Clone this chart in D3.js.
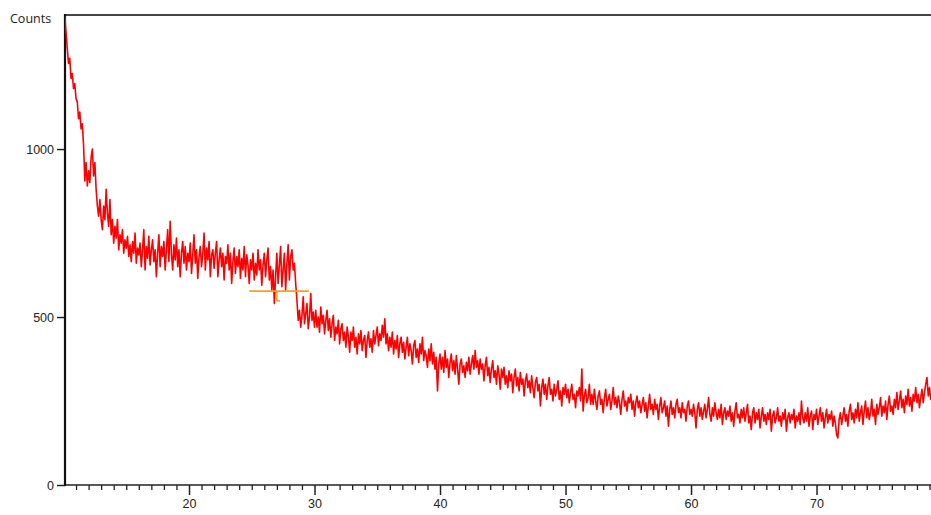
<!DOCTYPE html>
<html>
<head>
<meta charset="utf-8">
<script src="https://d3js.org/d3.v7.min.js"></script>
<style>
    body { margin: 0; background: #fff; }
    svg { display: block; font-family: "Open Sans", "DejaVu Sans", sans-serif; }
</style>
</head>
<body>
<svg id="vis"></svg>
<script>
// XRD scan, step 0.1 deg starting at 10.1 (2theta)
var scanStart = 10.1;
var scanStep = 0.1;

// Counts, one row per degree
var counts = [
    1395,1350,1300,1255,1270,1210,1225,1180,1195,1150,
    1140,1090,1110,1060,1075,1010,905,960,890,935,
    900,975,1000,920,960,880,830,800,850,790,
    760,830,790,880,810,770,850,745,790,720,
    770,735,790,700,745,720,760,690,730,705,
    740,680,715,665,725,690,750,660,705,685,
    720,650,700,760,640,710,675,740,655,700,
    730,665,700,620,690,745,650,710,680,725,
    640,700,760,665,785,690,640,715,670,735,
    650,700,620,690,725,660,710,640,690,665,
    720,630,685,745,660,700,615,680,710,650,
    690,750,640,705,670,725,620,685,700,645,
    690,725,620,670,705,650,690,610,680,660,
    715,640,690,600,665,705,630,680,650,700,
    615,675,640,710,620,685,655,600,670,640,
    690,610,660,625,700,640,670,595,655,690,
    620,670,705,610,650,580,640,540,620,690,
    600,655,710,590,640,690,580,660,715,610,
    680,700,640,660,600,550,490,520,470,505,
    560,480,510,540,465,500,570,490,515,470,
    520,470,500,455,530,480,505,450,490,520,
    460,495,440,480,505,430,470,450,490,420,
    465,480,430,455,410,470,440,395,455,430,
    470,410,440,390,450,420,460,400,430,445,
    380,430,455,410,435,395,460,420,445,470,
    415,450,430,475,440,495,420,450,400,440,
    410,455,390,430,405,445,380,420,440,395,
    425,375,410,440,385,420,400,360,415,430,
    380,405,365,420,390,440,370,400,385,350,
    405,370,420,360,395,345,380,280,360,390,
    345,380,335,400,350,375,320,365,390,340,
    370,330,385,345,300,360,375,335,355,320,
    365,340,380,330,360,385,345,400,350,370,
    330,375,345,360,310,355,380,325,350,305,
    345,370,320,340,300,355,330,285,345,320,
    350,300,325,290,340,310,330,275,320,345,
    295,320,280,335,300,315,265,310,330,290,
    310,275,325,290,260,305,320,280,300,235,
    290,315,270,300,255,295,320,270,285,250,
    300,265,285,310,255,280,235,290,270,300,
    260,285,245,275,300,255,270,230,280,265,
    290,250,345,220,265,285,245,260,300,240,
    270,240,285,250,225,265,280,240,255,215,
    260,285,235,255,270,225,250,290,240,260,
    230,265,245,210,255,280,235,250,220,260,
    245,270,225,250,205,245,265,230,250,215,
    240,260,220,245,200,235,270,225,240,210,
    255,225,240,195,235,260,215,230,250,205,
    235,175,225,250,210,230,200,240,255,215,
    230,200,245,215,225,190,235,250,210,225,
    205,240,215,170,225,245,205,230,195,220,
    240,200,225,260,210,190,230,205,245,215,
    195,225,200,240,180,215,230,195,220,205,
    235,190,215,175,220,245,200,210,185,225,
    200,230,190,215,240,185,205,165,215,230,
    185,215,195,225,170,205,230,190,210,180,
    215,195,225,160,205,220,185,200,230,190,
    205,175,215,195,225,160,200,215,185,210,
    195,225,170,205,190,215,180,250,200,185,
    215,190,230,175,205,220,165,210,195,225,
    180,205,230,190,215,170,200,225,185,210,
    195,220,175,205,185,150,140,195,215,180,
    205,230,190,210,175,220,240,195,215,185,
    225,200,245,190,215,235,180,220,250,200,
    230,195,215,255,205,225,180,240,210,230,
    260,205,235,215,250,195,240,265,220,235,
    210,255,230,275,225,250,280,230,255,215,
    265,240,285,235,260,220,270,250,290,245,
    270,230,260,285,245,275,300,320,265,290,
    255,270
];

// Phase marker (orange) under the hump
var markerRange = [24.8, 29.55];
var markerLevel = 577;
var markerStick = { pos: 27.0, low: 548 };

var xTicksMajor = [20, 30, 40, 50, 60, 70];
var yTicks = [0, 500, 1000];

function buildScan() {
    var pts = [];
    for (var i = 0, len = counts.length; i < len; i++) {
        pts.push({ angle: +(scanStart + i * scanStep).toFixed(2), cts: counts[i] });
    }
    return pts;
}

function drawChart() {
    var width = 931, height = 515;
    var left = 65, top = 15, bottom = 485;

    var svg = d3.select("#vis").attr("width", width).attr("height", height);

    var x = d3.scaleLinear().domain([10.12, 79.12]).range([left, width]);
    var y = d3.scaleLinear().domain([0, 1399]).range([bottom, top]);

    var data = buildScan();

    svg.append("clipPath").attr("id", "plotclip")
        .append("rect")
        .attr("x", left).attr("y", top - 5)
        .attr("width", width - left).attr("height", bottom - top + 5);

    // top frame line
    svg.append("line")
        .attr("x1", left).attr("x2", width)
        .attr("y1", top).attr("y2", top)
        .attr("stroke", "#444").attr("stroke-width", 2);

    // minor ticks every degree
    var minor = d3.range(11, 80).filter(function (d) { return d % 10 !== 0; });
    var xAxisMinor = d3.axisBottom(x).tickValues(minor).tickSize(5).tickFormat("");
    var xAxis = d3.axisBottom(x).tickValues(xTicksMajor).tickSize(10).tickPadding(4)
        .tickFormat(d3.format("d"));

    var gxm = svg.append("g").attr("transform", "translate(0," + bottom + ")").call(xAxisMinor);
    gxm.select(".domain").remove();
    gxm.selectAll("line").attr("stroke", "#222").attr("stroke-width", 1.3);

    var gx = svg.append("g").attr("transform", "translate(0," + bottom + ")").call(xAxis);
    gx.select(".domain").remove();
    gx.selectAll("line").attr("stroke", "#222").attr("stroke-width", 1.5);
    gx.selectAll("text").attr("fill", "#222").style("font-size", "12.5px");

    svg.append("line")
        .attr("x1", left).attr("x2", width)
        .attr("y1", bottom).attr("y2", bottom)
        .attr("stroke", "#222").attr("stroke-width", 1.5);

    var yAxis = d3.axisLeft(y).tickValues(yTicks).tickSize(8).tickPadding(3)
        .tickFormat(d3.format("d"));
    var gy = svg.append("g").attr("transform", "translate(" + left + ",0)").call(yAxis);
    gy.select(".domain").remove();
    gy.selectAll("line").attr("stroke", "#222").attr("stroke-width", 1.5);
    gy.selectAll("text").attr("fill", "#222").style("font-size", "12.5px");

    svg.append("line")
        .attr("x1", left).attr("x2", left)
        .attr("y1", top - 1).attr("y2", bottom + 1)
        .attr("stroke", "#111").attr("stroke-width", 2.2);

    svg.append("text")
        .attr("x", 10).attr("y", 23)
        .attr("fill", "#222")
        .style("font-size", "12.5px")
        .text("Counts");

    var line = d3.line()
        .x(function (d) { return x(d.angle); })
        .y(function (d) { return y(d.cts); });

    svg.append("path")
        .datum(data)
        .attr("clip-path", "url(#plotclip)")
        .attr("fill", "none")
        .attr("stroke", "#ff0000")
        .attr("stroke-width", 1.6)
        .attr("stroke-linejoin", "round")
        .attr("d", line);

    // orange marker
    var mk = svg.append("g").attr("stroke", "#f0a030").attr("stroke-width", 1.6);
    mk.append("line")
        .attr("x1", x(markerRange[0])).attr("x2", x(markerRange[1]))
        .attr("y1", y(markerLevel)).attr("y2", y(markerLevel));
    mk.append("line")
        .attr("x1", x(markerStick.pos)).attr("x2", x(markerStick.pos))
        .attr("y1", y(markerLevel)).attr("y2", y(markerStick.low));
    mk.append("line")
        .attr("x1", x(markerStick.pos)).attr("x2", x(markerStick.pos + 0.25))
        .attr("y1", y(markerStick.low)).attr("y2", y(markerStick.low));
}

drawChart();
</script>
</body>
</html>
